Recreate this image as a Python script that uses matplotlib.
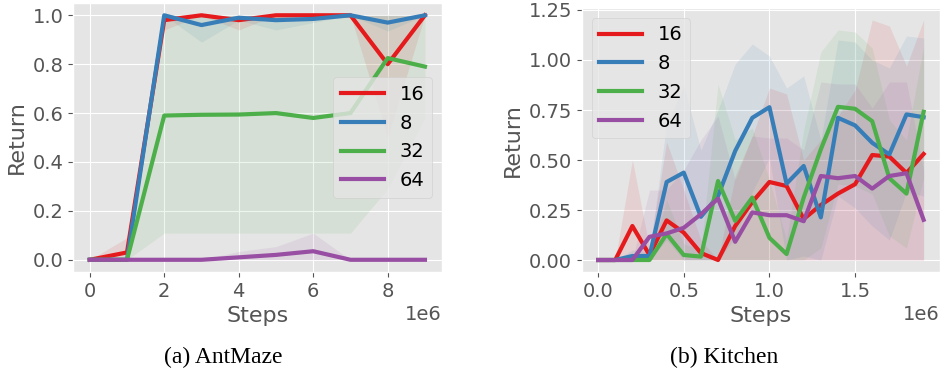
import numpy as np
import matplotlib
matplotlib.use("Agg")
import matplotlib.pyplot as plt

plt.style.use("ggplot")

labels = ["16", "8", "32", "64"]
colors = ["#e41a1c", "#377eb8", "#4daf4a", "#984ea3"]

# AntMaze, evaluated every 1e6 steps
ant_steps = np.arange(10) * 1e6
ant_mean = [
    [0.0, 0.03, 0.98, 1.0, 0.98, 1.0, 1.0, 1.0, 0.80, 1.0],
    [0.0, 0.0, 1.0, 0.96, 0.99, 0.98, 0.985, 1.0, 0.97, 1.0],
    [0.0, 0.0, 0.59, 0.593, 0.594, 0.60, 0.58, 0.60, 0.825, 0.79],
    [0.0, 0.0, 0.0, 0.0, 0.01, 0.02, 0.035, 0.0, 0.0, 0.0],
]
ant_lo = [
    [0.0, 0.0, 0.94, 1.0, 0.94, 1.0, 1.0, 1.0, 0.50, 1.0],
    [0.0, 0.0, 1.0, 0.89, 0.98, 0.94, 0.97, 1.0, 0.935, 1.0],
    [0.0, 0.0, 0.109, 0.109, 0.109, 0.109, 0.109, 0.109, 0.29, 0.58],
    [0.0, 0.0, 0.0, 0.0, 0.0, 0.0, 0.0, 0.0, 0.0, 0.0],
]
ant_hi = [
    [0.0, 0.09, 1.0, 1.0, 1.0, 1.0, 1.0, 1.0, 1.0, 1.0],
    [0.0, 0.0, 1.0, 1.0, 1.0, 1.0, 1.0, 1.0, 1.0, 1.0],
    [0.0, 0.0, 1.0, 1.0, 1.0, 1.0, 1.0, 1.0, 1.0, 1.0],
    [0.0, 0.0, 0.0, 0.0, 0.034, 0.054, 0.109, 0.0, 0.0, 0.0],
]

# Kitchen, evaluated every 1e5 steps
kit_steps = np.arange(20) * 1e5
kit_mean = [
    [0.0, 0.0, 0.17, 0.025, 0.198, 0.137, 0.035, 0.0, 0.17, 0.29,
     0.39, 0.37, 0.205, 0.275, 0.332, 0.379, 0.525, 0.517, 0.435, 0.53],
    [0.0, 0.0, 0.02, 0.02, 0.39, 0.437, 0.216, 0.32, 0.545, 0.711,
     0.764, 0.382, 0.47, 0.213, 0.711, 0.673, 0.586, 0.528, 0.728, 0.714],
    [0.0, 0.0, 0.0, 0.0, 0.13, 0.025, 0.017, 0.395, 0.196, 0.312,
     0.111, 0.03, 0.312, 0.553, 0.766, 0.756, 0.694, 0.409, 0.332, 0.741],
    [0.0, 0.0, 0.0, 0.116, 0.133, 0.161, 0.229, 0.307, 0.091, 0.238,
     0.224, 0.224, 0.194, 0.42, 0.409, 0.42, 0.357, 0.42, 0.434, 0.201],
]
kit_lo = [
    [0.0] * 20,
    [0.0, 0.0, 0.0, 0.0, 0.10, 0.0, 0.0, 0.0, 0.11, 0.34,
     0.51, 0.0, 0.02, 0.0, 0.32, 0.26, 0.17, 0.10, 0.34, 0.32],
    [0.0, 0.0, 0.0, 0.0, 0.0, 0.0, 0.0, 0.0, 0.0, 0.0,
     0.0, 0.0, 0.0, 0.06, 0.38, 0.37, 0.33, 0.12, 0.06, 0.41],
    [0.0] * 20,
]
kit_hi = [
    [0.0, 0.0, 0.50, 0.06, 0.59, 0.35, 0.10, 0.0, 0.42, 0.62,
     0.86, 0.83, 0.50, 0.60, 0.72, 0.85, 1.20, 1.17, 0.97, 1.20],
    [0.0, 0.0, 0.05, 0.04, 0.68, 0.87, 0.55, 0.75, 0.98, 1.08,
     1.02, 0.86, 0.92, 0.60, 1.10, 1.09, 1.00, 0.96, 1.12, 1.11],
    [0.0, 0.0, 0.0, 0.0, 0.30, 0.08, 0.05, 0.88, 0.60, 0.66,
     0.40, 0.10, 0.65, 1.04, 1.15, 1.14, 1.06, 0.70, 0.60, 1.07],
    [0.0, 0.0, 0.0, 0.35, 0.35, 0.45, 0.60, 0.72, 0.40, 0.62,
     0.61, 0.61, 0.55, 0.89, 0.88, 0.88, 0.76, 0.89, 0.89, 0.45],
]

fig = plt.figure(figsize=(9.43, 3.72), dpi=100)
ax1 = fig.add_axes([0.0774, 0.2688, 0.391, 0.723])
ax2 = fig.add_axes([0.617, 0.2688, 0.3797, 0.7097])


def draw(ax, x, means, los, his, legend_loc):
    for m, lo, hi, c, lab in zip(means, los, his, colors, labels):
        ax.fill_between(x, lo, hi, color=c, alpha=0.1, linewidth=0)
        ax.plot(x, m, color=c, linewidth=3, label=lab)
    ax.set_xlabel("Steps", fontsize=16)
    ax.set_ylabel("Return", fontsize=16)
    ax.tick_params(labelsize=14)
    ax.xaxis.get_offset_text().set_fontsize(14)
    ax.legend(loc=legend_loc, fontsize=14, handlelength=2.2)


draw(ax1, ant_steps, ant_mean, ant_lo, ant_hi, "center right")
draw(ax2, kit_steps, kit_mean, kit_lo, kit_hi, "upper left")

fig.text(0.237, 0.04, "(a) AntMaze", family="Liberation Serif", fontsize=17,
         ha="center", va="center")
fig.text(0.768, 0.04, "(b) Kitchen", family="Liberation Serif", fontsize=17,
         ha="center", va="center")

fig.savefig("out.png", dpi=100)
